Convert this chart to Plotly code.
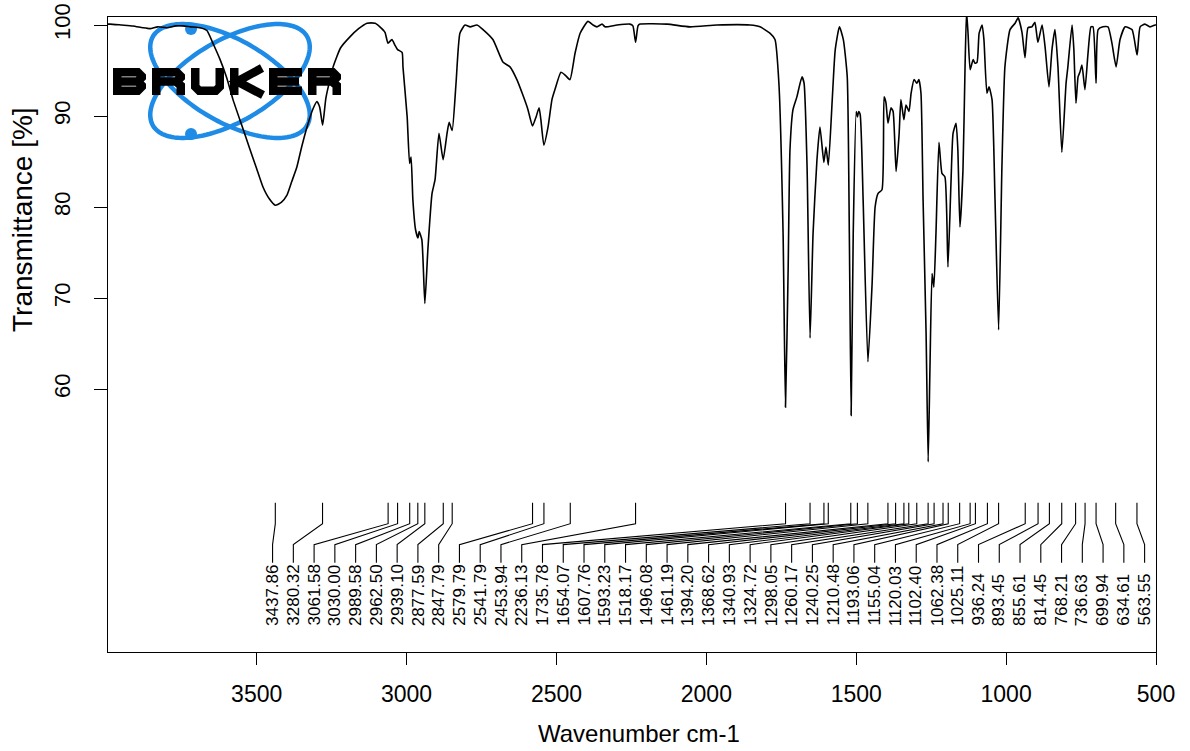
import numpy as np
import plotly.graph_objects as go

# ---------------- data ----------------
wavenumber = [3996, 3989, 3950, 3913, 3880, 3856, 3830, 3799, 3770, 3746, 3720, 3689, 3666, 3646,
              3622, 3600, 3579, 3550, 3522, 3500, 3479, 3458, 3438, 3418, 3399, 3383, 3366, 3350,
              3332, 3312, 3299, 3290, 3280, 3269, 3245, 3220, 3189, 3160, 3132, 3105, 3089, 3072,
              3062, 3049, 3039, 3030, 3015, 3012, 2998, 2990, 2985, 2979, 2970, 2962, 2958, 2949,
              2939, 2929, 2915, 2905, 2892, 2878, 2865, 2858, 2848, 2835, 2822, 2805, 2788, 2765,
              2745, 2712, 2678, 2655, 2632, 2612, 2595, 2580, 2568, 2558, 2552, 2542, 2528, 2515,
              2505, 2485, 2471, 2455, 2438, 2421, 2395, 2378, 2365, 2348, 2338, 2298, 2255, 2245,
              2236, 2228, 2221, 2131, 2055, 1965, 1854, 1821, 1788, 1771, 1758, 1744, 1736, 1727,
              1721, 1711, 1698, 1681, 1674, 1664, 1654, 1644, 1631, 1621, 1608, 1601, 1593, 1580,
              1570, 1556, 1543, 1530, 1523, 1517, 1510, 1500, 1496, 1492, 1487, 1477, 1461, 1447,
              1437, 1427, 1414, 1407, 1401, 1394, 1384, 1377, 1367, 1357, 1351, 1341, 1334, 1324,
              1317, 1307, 1298, 1291, 1284, 1277, 1267, 1260, 1254, 1247, 1241, 1234, 1224, 1214,
              1204, 1194, 1184, 1177, 1167, 1161, 1154, 1144, 1137, 1132, 1127, 1120, 1110, 1104,
              1097, 1090, 1080, 1074, 1064, 1057, 1047, 1037, 1025, 1014, 1004, 987, 970, 960,
              947, 937, 927, 914, 904, 894, 880, 870, 857, 847, 837, 827, 814, 800,
              794, 780, 774, 767, 760, 754, 747, 737, 727, 717, 710, 700, 693, 677,
              660, 647, 633, 620, 603, 580, 563, 553, 537, 520, 503, 500]

transmittance = [100.1, 100.1, 100.0, 99.9, 99.7, 99.6, 99.8, 99.7, 99.9, 99.9, 99.8, 99.7, 99.4, 98.0,
                 96.2, 94.2, 91.8, 89.0, 86.3, 84.2, 82.2, 80.9, 80.2, 80.5, 81.3, 82.8, 84.4, 86.6,
                 88.8, 90.8, 91.6, 91.0, 89.0, 92.0, 95.4, 97.5, 98.7, 99.6, 100.2, 100.2, 99.8, 99.2,
                 98.0, 98.4, 97.8, 97.3, 97.0, 95.4, 89.9, 84.8, 85.5, 80.8, 77.5, 76.6, 77.3, 76.4,
                 69.4, 75.3, 81.5, 83.0, 88.1, 85.2, 88.1, 89.3, 88.4, 93.6, 99.1, 100.0, 99.8, 100.0,
                 99.5, 98.4, 95.9, 95.4, 94.0, 92.3, 90.7, 88.9, 89.9, 90.9, 89.6, 86.8, 88.8, 91.8,
                 92.9, 94.8, 94.5, 94.0, 96.9, 99.1, 100.4, 100.0, 99.8, 100.1, 99.8, 100.0, 100.1, 99.9,
                 98.1, 99.9, 100.1, 100.1, 99.8, 100.0, 100.0, 99.8, 99.1, 98.4, 93.6, 77.1, 58.0, 73.4,
                 86.3, 90.7, 92.1, 94.3, 93.6, 84.4, 65.6, 77.1, 85.2, 88.8, 84.9, 86.6, 84.6, 91.8,
                 97.3, 99.8, 98.4, 94.3, 77.1, 57.1, 77.1, 90.5, 89.9, 90.5, 90.2, 80.8, 63.0, 71.6,
                 80.0, 81.5, 81.9, 92.1, 91.5, 89.2, 90.9, 90.5, 83.9, 88.0, 91.8, 89.6, 91.2, 90.5,
                 92.5, 94.0, 93.6, 94.0, 92.5, 80.8, 66.2, 52.0, 62.4, 72.7, 71.2, 77.1, 87.1, 83.7,
                 83.3, 73.4, 82.6, 88.1, 89.2, 86.3, 77.8, 84.0, 95.4, 101.5, 99.1, 95.1, 96.2, 95.8,
                 95.9, 99.1, 100.0, 98.4, 92.5, 93.2, 91.8, 80.8, 66.5, 84.4, 95.4, 99.5, 100.2, 100.8,
                 99.2, 96.4, 99.7, 99.8, 100.3, 98.1, 100.0, 97.6, 93.2, 97.3, 99.5, 95.4, 86.0, 93.6,
                 95.4, 100.0, 97.3, 91.4, 94.3, 94.8, 95.6, 92.9, 96.8, 99.8, 99.8, 93.6, 99.5, 99.8,
                 99.8, 98.0, 95.4, 98.4, 99.8, 99.5, 96.7, 99.8, 100.1, 99.8, 100.0, 100.0]

peak_positions = [3437.86, 3280.32, 3061.58, 3030.00, 2989.58, 2962.50, 2939.10, 2877.59, 2847.79,
                  2579.79, 2541.79, 2453.94, 2236.13, 1735.78, 1654.07, 1607.76, 1593.23, 1518.17,
                  1496.08, 1461.19, 1394.20, 1368.62, 1340.93, 1324.72, 1298.05, 1260.17, 1240.25,
                  1210.48, 1193.06, 1155.04, 1120.03, 1102.40, 1062.38, 1025.11, 936.24, 893.45,
                  855.61, 814.45, 768.21, 736.63, 699.94, 634.61, 563.55]

x_ticks = [3500, 3000, 2500, 2000, 1500, 1000, 500]
y_ticks = [60, 70, 80, 90, 100]

# ---------------- layout constants ----------------
W, H = 1190, 751
L, R, T, B = 108, 34, 17, 99
PW, PH = W - L - R, H - T - B
X_RANGE = [3996, 500]
Y_RANGE = [31.1, 100.88]
FONT = "Liberation Sans, Arial, sans-serif"

# connector levels (y data units) and label spread (x data units)
Y_TOP, Y_BEND1, Y_BEND2, Y_BOT, Y_TEXT = 47.5, 45.2, 42.9, 40.9, 33.75
label_x = np.linspace(3447, 538, len(peak_positions))

fig = go.Figure()

fig.add_trace(go.Scatter(x=wavenumber, y=transmittance, mode="lines",
                         line=dict(color="black", width=1.6, shape="spline", smoothing=0.5),
                         hoverinfo="skip"))

cx, cy = [], []
for p, lx in zip(peak_positions, label_x):
    cx += [p, p, lx, lx, None]
    cy += [Y_TOP, Y_BEND1, Y_BEND2, Y_BOT, None]
fig.add_trace(go.Scatter(x=cx, y=cy, mode="lines", line=dict(color="black", width=1.1),
                         hoverinfo="skip"))

annotations = []
for p, lx in zip(peak_positions, label_x):
    annotations.append(dict(x=lx, y=Y_TEXT, xref="x", yref="y", text=f"{p:.2f}",
                            textangle=-90, showarrow=False, xanchor="center", yanchor="bottom",
                            font=dict(family=FONT, size=17, color="black")))


def px2paper(x, y):
    return (np.asarray(x, float) - L) / PW, (H - B - np.asarray(y, float)) / PH


# axis titles
annotations.append(dict(x=(22 - L) / PW, y=(H - B - 220) / PH, xref="paper", yref="paper",
                        text="Transmittance [%]", textangle=-90, showarrow=False,
                        xanchor="center", yanchor="middle",
                        font=dict(family=FONT, size=28, color="black")))
annotations.append(dict(x=(639 - L) / PW, y=(H - B - 733) / PH, xref="paper", yref="paper",
                        text="Wavenumber cm-1", showarrow=False, xanchor="center", yanchor="middle",
                        font=dict(family=FONT, size=24, color="black")))

# ---------------- Bruker logo (drawn in pixel space, converted to paper) ----------------
shapes = []
BLUE = "#1E8BE6"


def path_from(subpaths, close=False):
    parts = []
    for sp in subpaths:
        xs, ys = px2paper([p[0] for p in sp], [p[1] for p in sp])
        seg = "M " + " L ".join(f"{u:.5f},{v:.5f}" for u, v in zip(xs, ys))
        if close:
            seg += " Z"
        parts.append(seg)
    return " ".join(parts)


lcx, lcy, a, b = 230, 81, 89, 41
t = np.linspace(0, 2 * np.pi, 160)
for th in (30, -30):
    r = np.radians(th)
    ex = lcx + a * np.cos(t) * np.cos(r) - b * np.sin(t) * np.sin(r)
    ey = lcy + a * np.cos(t) * np.sin(r) + b * np.sin(t) * np.cos(r)
    shapes.append(dict(type="path", path=path_from([list(zip(ex, ey))], close=True),
                       xref="paper", yref="paper", line=dict(color=BLUE, width=4.5), layer="below"))
for dx, dy in ((191, 29), (191, 134)):
    x0, y0 = px2paper(dx - 6, dy + 6)
    x1, y1 = px2paper(dx + 6, dy - 6)
    shapes.append(dict(type="circle", xref="paper", yref="paper", x0=float(x0), y0=float(y0),
                       x1=float(x1), y1=float(y1), fillcolor=BLUE, line=dict(color=BLUE, width=0),
                       layer="below"))

STROKE = 8.5


def letter(ch, x0, y0, w=33, h=27, s=STROKE):
    hs = s / 2
    m = y0 + h / 2
    L_, R_ = x0 + hs, x0 + w - hs
    T_, B_ = y0 + hs, y0 + h - hs
    c = 4
    if ch == "B":
        return [[(L_, B_ + hs), (L_, T_), (R_ - c, T_), (R_, T_ + c), (R_, m - c), (R_ - c, m),
                 (L_, m)],
                [(R_ - c, m), (R_, m + c), (R_, B_ - c), (R_ - c, B_), (L_ - hs, B_)]]
    if ch == "R":
        return [[(L_, y0 + h), (L_, T_), (R_ - c, T_), (R_, T_ + c), (R_, m - c), (R_ - c, m),
                 (L_, m)],
                [(R_ - c - 1, m), (R_, m + c), (R_, y0 + h)]]
    if ch == "U":
        return [[(L_, y0), (L_, B_ - c), (L_ + c, B_), (R_ - c, B_), (R_, B_ - c), (R_, y0)]]
    if ch == "K":
        return [[(L_, y0), (L_, y0 + h)],
                [(x0 + w - 1, y0), (L_ + 3, m), (x0 + w, y0 + h)]]
    if ch == "E":
        return [[(x0 + w, T_), (L_, T_), (L_, B_), (x0 + w, B_)],
                [(L_, m), (x0 + w - 3, m)]]
    return []


for i, ch in enumerate("BRUKER"):
    shapes.append(dict(type="path", path=path_from(letter(ch, 113 + 39 * i, 68)),
                       xref="paper", yref="paper", line=dict(color="black", width=STROKE),
                       layer="below"))

fig.update_layout(
    width=W, height=H, margin=dict(l=L, r=R, t=T, b=B, pad=0, autoexpand=False),
    paper_bgcolor="white", plot_bgcolor="white", showlegend=False,
    annotations=annotations, shapes=shapes,
    xaxis=dict(range=X_RANGE, tickvals=x_ticks, ticktext=[str(v) for v in x_ticks],
               ticks="outside", ticklen=12, tickwidth=1.3, tickcolor="black",
               showline=True, linecolor="black", linewidth=1.4, mirror=True, automargin=False,
               showgrid=False, zeroline=False, ticklabelstandoff=9,
               tickfont=dict(family=FONT, size=23, color="black")),
    yaxis=dict(range=Y_RANGE, tickvals=y_ticks, ticktext=[str(v) for v in y_ticks],
               ticks="outside", ticklen=13, tickwidth=1.3, tickcolor="black", tickangle=-90,
               showline=True, linecolor="black", linewidth=1.4, mirror=True, automargin=False,
               showgrid=False, zeroline=False, ticklabelstandoff=15,
               tickfont=dict(family=FONT, size=22, color="black")),
)

fig.write_html("out.html", config={"displayModeBar": False})
